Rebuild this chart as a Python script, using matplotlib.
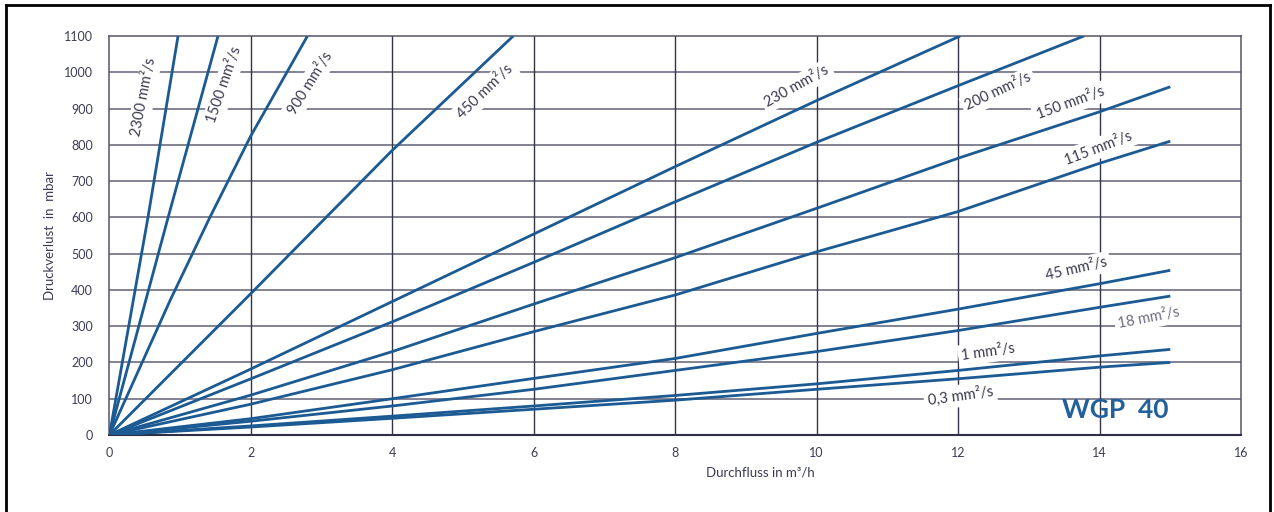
import matplotlib
matplotlib.use("Agg")
import matplotlib.pyplot as plt
from matplotlib.lines import Line2D

# ---------------- data ----------------
flow_2300 = [0, 0.545, 0.97]
dp_2300 = [0, 600, 1100]
flow_1500 = [0, 0.83, 1.535]
dp_1500 = [0, 600, 1100]
flow_900 = [0, 0.86, 1.42, 2.0, 2.80]
dp_900 = [0, 372, 600, 825, 1100]
flow_450 = [0, 2, 4, 5.71]
dp_450 = [0, 390, 785, 1100]
flow_230 = [0, 2, 4, 6, 8, 10, 12.03]
dp_230 = [0, 182, 368, 554, 740, 922, 1100]
flow_200 = [0, 2, 4, 6, 8, 10, 12, 13.78]
dp_200 = [0, 155, 312, 476, 643, 807, 963, 1100]
flow_low = [0, 2, 4, 6, 8, 10, 12, 14, 15]
dp_150 = [0, 110, 230, 361, 489, 625, 763, 891, 960]
dp_115 = [0, 85, 180, 285, 386, 505, 616, 749, 810]
dp_45 = [0, 45, 100, 156, 211, 280, 347, 417, 454]
dp_18 = [0, 38, 80, 126, 178, 230, 288, 352, 383]
dp_1 = [0, 25, 52, 80, 109, 141, 178, 218, 236]
dp_03 = [0, 22, 46, 71, 96, 126, 155, 187, 200]

curve_labels = ["2300 mm²/s", "1500 mm²/s", "900 mm²/s", "450 mm²/s",
                "230 mm²/s", "200 mm²/s", "150 mm²/s", "115 mm²/s",
                "45 mm²/s", "18 mm²/s", "1 mm²/s", "0,3 mm²/s"]
label_x = [0.49, 1.63, 2.84, 5.31, 9.72, 12.57, 13.59, 13.98, 13.67, 14.70, 12.43, 12.03]
label_y = [932, 965, 970, 946, 962, 946, 915, 791, 458, 323, 229, 108]
label_rot = [79, 71, 58, 44, 29, 25, 20, 21, 13, 11, 8, 8]

x_ticks = [0, 2, 4, 6, 8, 10, 12, 14, 16]
y_ticks = [0, 100, 200, 300, 400, 500, 600, 700, 800, 900, 1000, 1100]

# ---------------- figure ----------------
plt.rcParams['font.family'] = ['Lato', 'DejaVu Sans']
fig = plt.figure(figsize=(12.74, 5.12), dpi=100)
ax = fig.add_axes([0.0859, 0.1504, 0.8882, 0.7793])

line_color = "#1b5a92"
curves = [
    (flow_2300, dp_2300), (flow_1500, dp_1500), (flow_900, dp_900),
    (flow_450, dp_450), (flow_230, dp_230), (flow_200, dp_200),
    (flow_low, dp_150), (flow_low, dp_115), (flow_low, dp_45),
    (flow_low, dp_18), (flow_low, dp_1), (flow_low, dp_03),
]
for fx, dy in curves:
    ax.plot(fx, dy, color=line_color, lw=2.0, solid_capstyle='butt',
            solid_joinstyle='round', zorder=3)

ax.set_xlim(0, 16)
ax.set_ylim(0, 1100)
ax.set_xticks(x_ticks)
ax.set_yticks(y_ticks)
ax.set_xticklabels([str(v) for v in x_ticks])
ax.set_yticklabels([str(v) for v in y_ticks])
ax.tick_params(axis='both', length=0, labelsize=9, colors="#3c3c55")
ax.tick_params(axis='x', pad=9)
ax.tick_params(axis='y', pad=12)

for v in y_ticks[1:-1]:
    ax.axhline(v, color="#606076", lw=1.1, zorder=1)
for v in x_ticks[1:-1]:
    ax.axvline(v, color="#33334a", lw=1.0, zorder=1)
for s in ax.spines.values():
    s.set_color("#55556a")
    s.set_linewidth(1.1)
ax.spines['bottom'].set_color("#2e2e44")
ax.spines['bottom'].set_linewidth(1.5)

for txt, lx, ly, r in zip(curve_labels, label_x, label_y, label_rot):
    col = "#6e6e80" if txt.startswith("18") else "#3a3a4e"
    ax.text(lx, ly, txt, rotation=r, rotation_mode='anchor', ha='center', va='center',
            fontsize=10.5, color=col, zorder=4,
            bbox=dict(boxstyle='square,pad=0.25', fc='white', ec='none'))

ax.text(14.22, 69, "WGP  40", ha='center', va='center', fontsize=19,
        fontweight='bold', color="#22609c", zorder=4)

ax.set_xlabel("Durchfluss in m³/h", fontsize=9.5, color="#3a3a55")
ax.set_ylabel("Druckverlust  in  mbar", fontsize=9.5, color="#3a3a55")
ax.xaxis.set_label_coords(0.575, -0.08)
ax.yaxis.set_label_coords(-0.047, 0.5)

# outer frame (left, top, right)
fw, fh = 1274, 512
for (x0, y0, x1, y1) in [(6, 512, 6, 5), (6, 5, 1270, 5), (1270, 5, 1270, 512)]:
    fig.add_artist(Line2D([x0 / fw, x1 / fw], [1 - y0 / fh, 1 - y1 / fh],
                          color='black', lw=2.0, transform=fig.transFigure))

fig.savefig("out.png", dpi=100, facecolor='white')
